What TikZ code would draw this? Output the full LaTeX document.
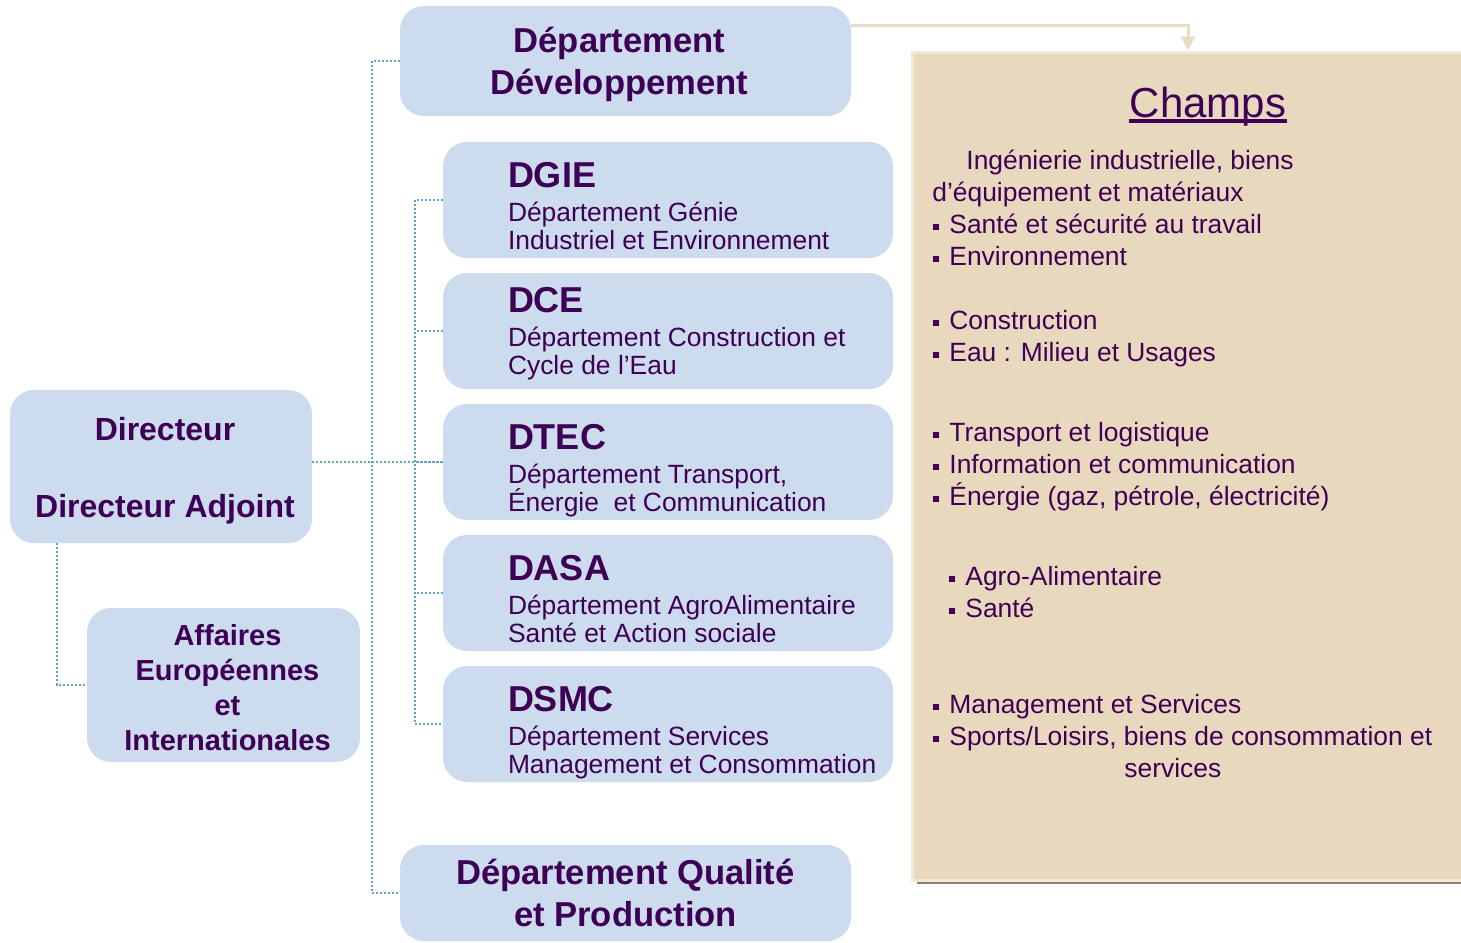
\documentclass[tikz,border=0pt]{standalone}
\usepackage{fontspec}
\setmainfont{Liberation Sans}
\usetikzlibrary{positioning,arrows.meta}

\definecolor{txtpurple}{RGB}{62,0,84}
\definecolor{boxblue}{RGB}{204,220,238}
\definecolor{champsfill}{RGB}{232,217,190}
\definecolor{champsedge}{RGB}{241,232,216}
\definecolor{arrowbeige}{RGB}{234,220,197}
\definecolor{linkblue}{RGB}{98,166,196}
\definecolor{shadowgray}{RGB}{138,128,110}

\newcommand\sqb{\rule[1.6pt]{3pt}{3pt}\hspace{5pt}} % square bullet

\tikzset{
  unitbox/.style={fill=boxblue, rounded corners=12pt, inner sep=0pt},
  boxtxt/.style={text=txtpurple, align=center, inner sep=0pt},
  dept/.style={unitbox, minimum width=225pt, minimum height=58pt},
  depttxt/.style={text=txtpurple, align=left, anchor=base west, inner sep=0pt,
                  font={\fontsize{13.2}{14}\selectfont\lineskiplimit=-20pt}},
  link/.style={linkblue, line width=0.9pt, dash pattern=on 1pt off 1pt},
  champsbox/.style={fill=champsfill, draw=champsedge, line width=1.5pt,
                    minimum width=276pt, minimum height=414pt, inner sep=0pt},
  champline/.style={text=txtpurple, anchor=base west, inner sep=0pt, font=\fontsize{13.2}{16}\selectfont},
}

\begin{document}
\begin{tikzpicture}[x=0.5pt,y=-0.5pt]
\useasboundingbox (0,0) rectangle (1461,942);
\clip (0,0) rectangle (1461,942);

% fields panel
\fill[shadowgray] (917,870) rectangle (1470,884);
\node[champsbox] (champs) at (1188,466) {};
\node[text=txtpurple, anchor=base, inner sep=0pt, font=\fontsize{21}{21}\selectfont] (ctitle) at (1208,117) {Champs};
\draw[txtpurple, line width=1.8pt] ([yshift=-2pt]ctitle.base west) -- ([yshift=-2pt]ctitle.base east);

\foreach \y/\x/\t in {169/966/{Ingénierie industrielle, biens},
                      201/932/{d’équipement et matériaux},
                      233/933/{\sqb Santé et sécurité au travail},
                      265/933/{\sqb Environnement},
                      329/933/{\sqb Construction},
                      361/933/{\sqb Eau : Milieu et Usages},
                      441/933/{\sqb Transport et logistique},
                      473/933/{\sqb Information et communication},
                      505/933/{\sqb Énergie (gaz, pétrole, électricité)},
                      585/949/{\sqb Agro-Alimentaire},
                      617/949/{\sqb Santé},
                      713/933/{\sqb Management et Services},
                      745/933/{\sqb Sports/Loisirs, biens de consommation et},
                      777/1124/{services}}
{
\node[champline] (l\y) at (\x,\y) {\t};
}

% direction boxes
\node[unitbox, minimum width=151pt, minimum height=76.5pt] (dir) at (161,466.5) {};
\node[boxtxt, font=\fontsize{16}{38.5}\selectfont\bfseries] (dirtxt)
     at ([xshift=2pt,yshift=-2pt]dir.center) {Directeur\\Directeur Adjoint};
\node[unitbox, minimum width=136.5pt, minimum height=77pt] (aff) at (223.5,685) {};
\node[boxtxt, font=\fontsize{14.5}{17.5}\selectfont\bfseries] (afftxt)
     at ([xshift=2pt,yshift=-1.5pt]aff.center) {Affaires\\Européennes\\et\\Internationales};
\node[unitbox, minimum width=225.5pt, minimum height=55pt] (devdept) at (625.5,61) {};
\node[boxtxt, font=\fontsize{17.3}{21}\selectfont\bfseries] (devtxt)
     at ([xshift=-3pt,yshift=-1.5pt]devdept.center) {Département\\Développement};
\node[unitbox, minimum width=225.5pt, minimum height=48pt] (qual) at (625.5,893) {};
\node[boxtxt, font=\fontsize{17.3}{21}\selectfont\bfseries] (qualtxt)
     at (qual.center) {Département Qualité\\et Production};

% departments (\s = small vertical correction of the text)
\foreach \n/\y/\s/\a/\b/\c in {dgie/200/0/DGIE/{Département Génie}/{Industriel et Environnement},
                               dce/331/3/DCE/{Département Construction et}/{Cycle de l’Eau},
                               dtec/462/0/DTEC/{Département Transport,}/{Énergie~ et Communication},
                               dasa/593/0/DASA/{Département AgroAlimentaire}/{Santé et Action sociale},
                               dsmc/724/0/DSMC/{Département Services}/{Management et Consommation}}
{
\node[dept] (\n) at (668,\y) {};
\node[depttxt] (\n txt) at ([xshift=32.5pt,yshift=-24.5pt+\s pt]\n.west)
     {{\fontsize{18}{18}\selectfont\bfseries \a}\\[3pt] \b\\ \c};
}

% connectors
\draw[link] (dir.east |- dtec.west) -- (dtec.west);
\draw[link] (devdept.west) -- ++(-28,0) |- (qual.west);
\draw[link] (dgie.west) -- ++(-28,0) |- (dsmc.west);
\foreach \n in {dce,dtec,dasa}
  \draw[link] (\n.west) -- ++(-28,0);
\draw[link] ([xshift=23.5pt]dir.south west) |- (aff.west);

\draw[arrowbeige, line width=1.5pt, -{Triangle[width=7pt,length=7pt]}]
     ([yshift=18pt]devdept.east) -| (champs.north);
\end{tikzpicture}
\end{document}
